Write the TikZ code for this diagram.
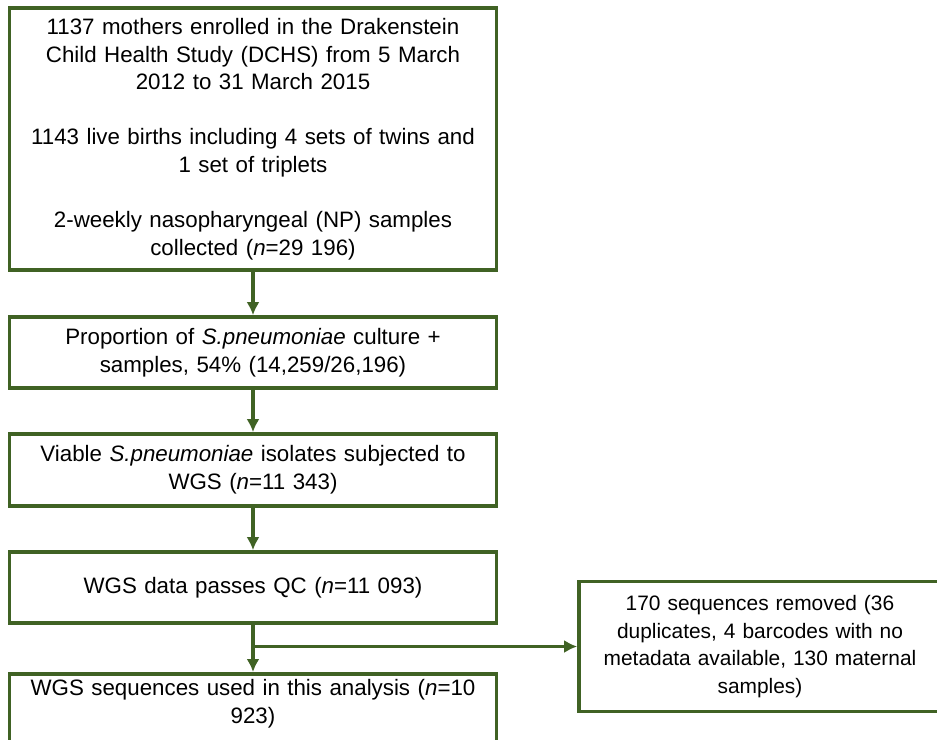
\documentclass[tikz,border=0pt]{standalone}
\usepackage{fontspec}
\setmainfont{Liberation Sans}
\usepackage{xcolor}
\usetikzlibrary{arrows.meta}
\definecolor{flowgreen}{RGB}{64,98,36}

\begin{document}
\begin{tikzpicture}[flowbox/.style={font=\fontsize{12.7}{15.7}\selectfont, draw=flowgreen, line width=2.1pt, minimum width=9.72cm, text width=9.5cm, align=center},
flowarrow/.style={draw=flowgreen, line width=2.1pt, -{Latex[length=0.26cm,width=0.26cm]}}]
\useasboundingbox (0,0) rectangle (18.74,-14.78);
%boxes down the main line
\node[flowbox, minimum height=5.24cm] (enrol) at (5.06,-2.78) {1137 mothers enrolled in the Drakenstein\\Child Health Study (DCHS) from 5 March\\2012 to 31 March 2015\\[15.7pt]1143 live births including 4 sets of twins and\\1 set of triplets\\[15.7pt]2-weekly nasopharyngeal (NP) samples\\collected (\textit{n}=29 196)};
\node[flowbox, minimum height=1.42cm] (culture) at (5.06,-7.05) {Proportion of \textit{S.pneumoniae} culture +\\samples, 54\% (14,259/26,196)};
\node[flowbox, minimum height=1.44cm] (isolates) at (5.06,-9.4) {Viable \textit{S.pneumoniae} isolates subjected to\\WGS (\textit{n}=11 343)};
\node[flowbox, minimum height=1.42cm] (passqc) at (5.06,-11.75) {WGS data passes QC (\textit{n}=11 093)};
\node[flowbox, anchor=north, text depth=1.4cm] (used) at (5.06,-13.44) {WGS sequences used in this analysis (\textit{n}=10\\923)};
%side box
\node[flowbox, font=\fontsize{11.9}{15.7}\selectfont, minimum width=7.24cm, text width=6.9cm, minimum height=2.6cm] (removed) at (15.2,-12.93) {170 sequences removed (36\\duplicates, 4 barcodes with no\\metadata available, 130 maternal\\samples)};
\coordinate (split) at (5.06,-12.93);
\draw [flowarrow] (enrol) -- (culture);
\draw [flowarrow] (culture) -- (isolates);
\draw [flowarrow] (isolates) -- (passqc);
\draw [flowarrow] (passqc) -- (used);
\draw [flowarrow] (split) -- (removed);
\end{tikzpicture}
\end{document}
